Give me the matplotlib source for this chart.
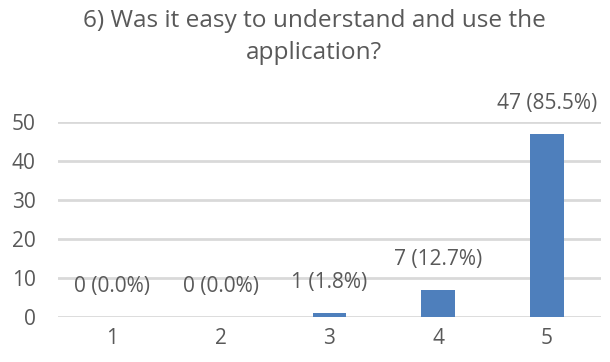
import matplotlib.pyplot as plt

categories = ['1', '2', '3', '4', '5']
counts = [0, 0, 1, 7, 47]
pcts = [0.0, 0.0, 1.8, 12.7, 85.5]

plt.rcParams['font.family'] = ['Open Sans', 'DejaVu Sans']
txt = '#595959'

fig = plt.figure(figsize=(6.1, 3.62), dpi=100)
ax = fig.add_axes([58/610, 45/362, 543/610, 195/362])

x = range(len(categories))
ax.bar(x, counts, width=0.31, color='#4e7fbc', zorder=3)

for i, (c, p) in enumerate(zip(counts, pcts)):
    ax.annotate(f'{c} ({p:.1f}%)', (i, c), xytext=(0, 25), textcoords='offset pixels',
                ha='center', va='baseline', fontsize=15, color=txt, annotation_clip=False)

ax.set_xlim(-0.5, 4.5)
ax.set_ylim(0, 50)
ax.set_yticks([0, 10, 20, 30, 40, 50])
ax.set_xticks(list(x))
ax.set_xticklabels(categories)
ax.yaxis.grid(True, color='#d9d9d9', linewidth=2.0, zorder=0)
ax.set_axisbelow(True)
for s in ax.spines.values():
    s.set_visible(False)
ax.tick_params(length=0, labelsize=15, labelcolor=txt)
ax.tick_params(axis='y', pad=16)
ax.tick_params(axis='x', pad=8)

fig.text(314/610, 1 - 9/362, '6) Was it easy to understand and use the\napplication?',
         ha='center', va='top', fontsize=17.6, color=txt, linespacing=1.45)

fig.savefig('out.png', dpi=100)
